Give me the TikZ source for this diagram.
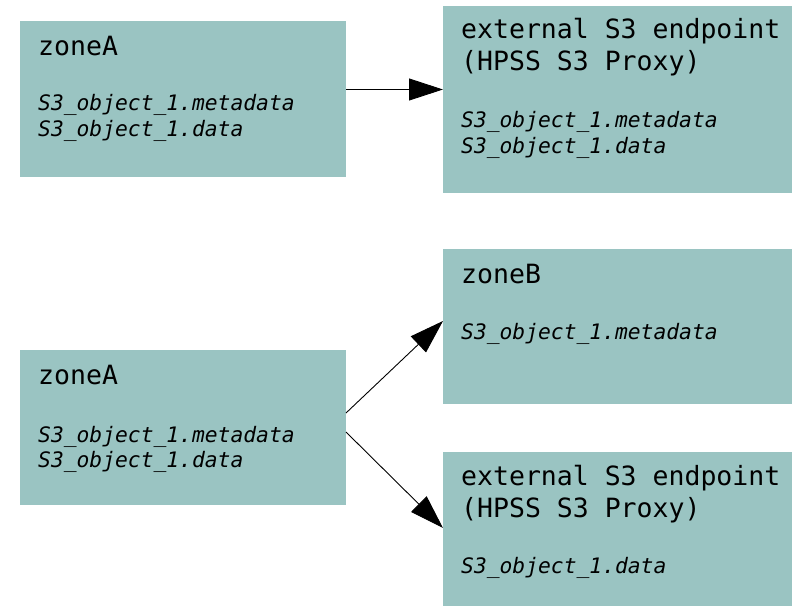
\documentclass[tikz,border=0pt]{standalone}
\usepackage{fontspec}
\setmonofont{DejaVu Sans Mono}[ItalicFont={DejaVu Sans Mono Oblique}]
\usetikzlibrary{arrows.meta}
\definecolor{zonefill}{RGB}{154,196,194}
\newcommand\monosp{\hphantom{x}}
\tikzstyle{box} = [rectangle, fill=zonefill, anchor=north west, inner sep=0pt, outer sep=0pt]
\tikzstyle{title} = [anchor=base west, inner sep=0pt, text width=340bp, align=left, font=\ttfamily\fontsize{26.5bp}{32bp}\selectfont]
\tikzstyle{objs} = [anchor=base west, inner sep=0pt, text width=340bp, align=left, font=\ttfamily\itshape\fontsize{21.3bp}{25.5bp}\selectfont]
\tikzstyle{arrow} = [line width=0.9bp, -{Triangle[length=34bp,width=22bp]}]

\begin{document}
\begin{tikzpicture}[x=1bp, y=-1bp]
    \useasboundingbox (0,0) rectangle (792,606);

    % top row
    \node (zoneA1) [box, minimum width=326bp, minimum height=156bp] at (20,21) {};
    \node (ext1) [box, minimum width=349bp, minimum height=187bp] at (443,6) {};
    % bottom row
    \node (zoneB) [box, minimum width=349bp, minimum height=155bp] at (443,249) {};
    \node (zoneA2) [box, minimum width=326bp, minimum height=155bp] at (20,350) {};
    \node (ext2) [box, minimum width=349bp, minimum height=154bp] at (443,452) {};

    \node (zoneA1-title) [title] at (38,56) {zoneA};
    \node (zoneA1-objs) [objs] at (38,111) {S3\_object\_1.metadata\\S3\_object\_1.data};
    \node (ext1-title) [title] at (461,39) {external\monosp S3\monosp endpoint\\(HPSS\monosp S3\monosp Proxy)};
    \node (ext1-objs) [objs] at (461,128) {S3\_object\_1.metadata\\S3\_object\_1.data};
    \node (zoneB-title) [title] at (461,283) {zoneB};
    \node (zoneB-objs) [objs] at (461,339) {S3\_object\_1.metadata};
    \node (zoneA2-title) [title] at (38,384) {zoneA};
    \node (zoneA2-objs) [objs] at (38,442) {S3\_object\_1.metadata\\S3\_object\_1.data};
    \node (ext2-title) [title] at (461,485) {external\monosp S3\monosp endpoint\\(HPSS\monosp S3\monosp Proxy)};
    \node (ext2-objs) [objs] at (461,573) {S3\_object\_1.data};

    \draw[arrow] ([yshift=9.5bp]zoneA1.east) -- ([yshift=9.5bp]zoneA1.east -| ext1.west);
    \draw[arrow] ([yshift=14.5bp]zoneA2.east) -- ([yshift=5.5bp]zoneB.west);
    \draw[arrow] ([yshift=-4.5bp]zoneA2.east) -- ([yshift=1bp]ext2.west);
\end{tikzpicture}
\end{document}
